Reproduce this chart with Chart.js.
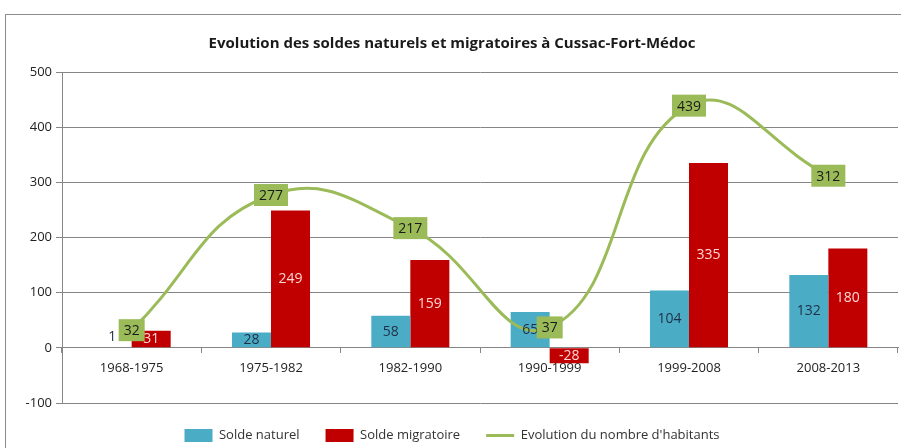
<!DOCTYPE html>
<html>
<head>
<meta charset="utf-8">
<script src="https://cdn.jsdelivr.net/npm/chart.js@4/dist/chart.umd.min.js"></script>
<style>
  html, body { margin: 0; padding: 0; background: #fff; }
  #wrap { position: relative; width: 901px; height: 448px; overflow: hidden; }
  #frame { position: absolute; left: 5px; top: 14px; width: 940px; height: 480px; border: 1px solid #8c8c8c; }
  canvas { position: absolute; left: 0; top: 0; }
</style>
</head>
<body>
<div id="wrap">
  <div id="frame"></div>
  <canvas id="chart" width="901" height="448"></canvas>
</div>
<script>
/* Soldes naturels et migratoires – Cussac-Fort-Médoc */

const periods = ['1968-1975', '1975-1982', '1982-1990', '1990-1999', '1999-2008', '2008-2013'];
const soldeNaturel = [1, 28, 58, 65, 104, 132];
const soldeMigratoire = [31, 249, 159, -28, 335, 180];
const habitants = [32, 277, 217, 37, 439, 312];
const yTicks = [-100, 0, 100, 200, 300, 400, 500];

const FONT = '"Open Sans", "Noto Sans", sans-serif';
const GRID = '#868686';

// labels on bars and boxed labels on the line
const valueLabels = {
    id: 'valueLabels',
    afterDatasetsDraw(chart) {
        const ctx = chart.ctx;
        ctx.save();
        ctx.font = '14px ' + FONT;
        ctx.textAlign = 'center';
        ctx.textBaseline = 'middle';

        chart.data.datasets.forEach((ds, i) => {
            if (ds.type === 'line') return;
            const meta = chart.getDatasetMeta(i);
            meta.data.forEach((bar, j) => {
                const v = ds.data[j];
                const h = Math.abs(bar.base - bar.y);
                let y = (bar.y + bar.base) / 2;
                if (h < 8) y = bar.y - 10;
                ctx.fillStyle = ds.labelColor;
                ctx.fillText(String(v), bar.x, y);
            });
        });

        chart.data.datasets.forEach((ds, i) => {
            if (ds.type !== 'line') return;
            const meta = chart.getDatasetMeta(i);
            meta.data.forEach((pt, j) => {
                const txt = String(ds.data[j]);
                const w = ctx.measureText(txt).width + 10;
                const hh = 22;
                ctx.fillStyle = '#9bbb59';
                ctx.fillRect(pt.x - w / 2, pt.y - hh / 2, w, hh);
                ctx.fillStyle = '#1a1a1a';
                ctx.fillText(txt, pt.x, pt.y + 1);
            });
        });
        ctx.restore();
    }
};

new Chart(document.getElementById('chart'), {
    data: {
        labels: periods,
        datasets: [
            {
                type: 'bar',
                label: 'Solde naturel',
                data: soldeNaturel,
                backgroundColor: '#4bacc6',
                labelColor: '#1f2f45',
                pointStyle: 'rect',
                order: 1
            },
            {
                type: 'bar',
                label: 'Solde migratoire',
                data: soldeMigratoire,
                backgroundColor: '#c00000',
                labelColor: '#ffd6d6',
                pointStyle: 'rect',
                order: 1
            },
            {
                type: 'line',
                label: "Evolution du nombre d'habitants",
                data: habitants,
                borderColor: '#9bbb59',
                backgroundColor: '#9bbb59',
                borderWidth: 3,
                pointRadius: 0,
                tension: 0.45,
                pointStyle: 'line',
                order: 0
            }
        ]
    },
    options: {
        responsive: false,
        animation: false,
        devicePixelRatio: 1,
        layout: { padding: { left: 6, right: 3, top: 35, bottom: -4 } },
        datasets: {
            bar: { categoryPercentage: 0.56, barPercentage: 1.0 }
        },
        elements: { line: { capBezierPoints: false } },
        plugins: {
            title: {
                display: true,
                text: 'Evolution des soldes naturels et migratoires à Cussac-Fort-Médoc',
                color: '#1a1a1a',
                font: { family: FONT, size: 15, weight: 'bold' },
                padding: { top: 0, bottom: 19 }
            },
            legend: {
                position: 'bottom',
                labels: {
                    usePointStyle: true,
                    pointStyleWidth: 28,
                    boxHeight: 14,
                    padding: 26,
                    color: '#333',
                    font: { family: FONT, size: 13 },
                    sort: (a, b) => a.datasetIndex - b.datasetIndex
                }
            },
            tooltip: { enabled: false }
        },
        scales: {
            x: {
                position: { y: 0 },
                grid: { offset: true, drawOnChartArea: false, color: GRID, tickLength: 5 },
                border: { color: GRID },
                ticks: { color: '#222', font: { family: FONT, size: 13 }, padding: 8 }
            },
            y: {
                min: -100,
                max: 500,
                afterBuildTicks: s => { s.ticks = yTicks.map(v => ({ value: v })); },
                afterFit: s => { s.width = 56; },
                grid: { color: GRID, tickLength: 6 },
                border: { color: GRID },
                ticks: { color: '#222', font: { family: FONT, size: 13 }, padding: 4 }
            }
        }
    },
    plugins: [valueLabels]
});
</script>
</body>
</html>
